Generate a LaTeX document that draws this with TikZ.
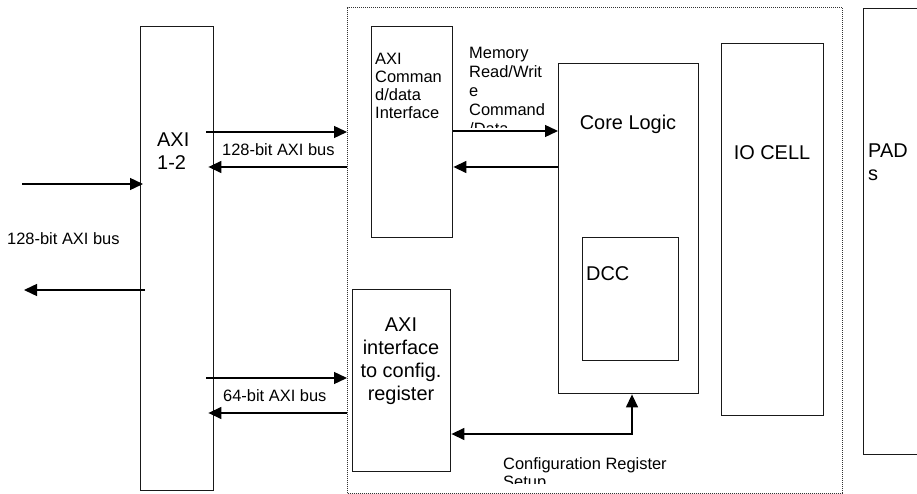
\documentclass[tikz,border=0pt]{standalone}
\usepackage{fontspec}
\setmainfont{Liberation Sans}
\usetikzlibrary{arrows.meta,calc}

\tikzset{
  box/.style={draw=black!90, line width=1.4bp, rectangle, inner sep=0pt, anchor=north west},
  region/.style={draw=black!80, line width=1.1bp, dash pattern=on 1bp off 1bp, rectangle, inner sep=0pt, anchor=north west},
  txt/.style={inner sep=0pt, font=\fontsize{16.5}{18}\selectfont},
  bigtxt/.style={inner sep=0pt, font=\fontsize{20}{23}\selectfont},
  arr/.style={line width=1.4bp, -{Triangle[length=13bp,width=12bp]}},
  arrboth/.style={line width=1.4bp, {Triangle[length=13bp,width=12bp]}-{Triangle[length=13bp,width=12bp]}}
}

\begin{document}
\begin{tikzpicture}[x=1bp,y=-1bp]
\useasboundingbox (0,0) rectangle (917,494);
\clip (0,0) rectangle (917,494);

% controller region (dotted outline)
\node[region, minimum width=495bp, minimum height=486bp] (region) at (347,7) {};

% blocks
\node[box, minimum width=73bp,  minimum height=464bp] (axi12)  at (140,26)  {};
\node[box, minimum width=81bp,  minimum height=211bp] (cmdif)  at (371,26)  {};
\node[box, minimum width=140bp, minimum height=330bp] (core)   at (558,63)  {};
\node[box, minimum width=96bp,  minimum height=123bp] (dcc)    at (582,237) {};
\node[box, minimum width=102bp, minimum height=372bp] (iocell) at (721,43)  {};
\node[box, minimum width=90bp,  minimum height=446bp] (pads)   at (863,8)   {};
\node[box, minimum width=98bp,  minimum height=182bp] (cfgif)  at (352,289) {};

% block texts
\node[bigtxt, anchor=north west, align=left] (axi12txt) at (157,133) {AXI\\1-2};
\node[txt, anchor=north west, align=left] (cmdtxt) at (375,53) {AXI\\Comman\\d/data\\Interface};
\node[bigtxt, anchor=north] (coretxt) at (628,115) {Core Logic};
\node[bigtxt, anchor=north west] (dcctxt) at (586,266) {DCC};
\node[bigtxt, anchor=north] (iotxt) at (772,145) {IO CELL};
\node[bigtxt, anchor=north west, align=left] (padtxt) at (868,144) {PAD\\s};
\node[bigtxt, anchor=north, align=center] (cfgtxt) at (401,318) {AXI\\interface\\to config.\\register};

% bus labels
\node[txt, anchor=north west] (bus1) at (222,143) {128-bit AXI bus};
\node[txt, anchor=north west] (bus2) at (7,232) {128-bit AXI bus};
\node[txt, anchor=north west] (bus3) at (223,389) {64-bit AXI bus};

% label over the command path, cut off by its text frame
\begin{scope}
  \clip (455,40) rectangle (555,128);
  \node[txt, font=\fontsize{16.5}{19}\selectfont, anchor=north west, align=left] (memtxt) at (469,47)
    {Memory\\Read/Writ\\e\\Command\\/Data};
\end{scope}

% label under the setup path, cut off by its text frame
\begin{scope}
  \clip (495,440) rectangle (700,483.5);
  \node[txt, font=\fontsize{16.5}{18.5}\selectfont, anchor=north west, align=left] (setuptxt) at (503,457)
    {Configuration Register\\Setup};
\end{scope}

% signal levels
\coordinate (yA) at (0,132);
\coordinate (yB) at (0,167);
\coordinate (yM) at (0,131);
\coordinate (yC) at (0,378);
\coordinate (yD) at (0,413);
\coordinate (inEnd) at (22,184);
\coordinate (outEnd) at (24,290);
\coordinate (setup) at (632,434);

% 128-bit bus between AXI 1-2 and the controller
\draw[arr] ($(axi12.east|-yA)+(-8,0)$) -- (region.west|-yA);
\draw[arr] (region.west|-yB) -- ($(axi12.east|-yB)+(-6,0)$);

% external 128-bit bus
\draw[arr] (inEnd) -- ($(axi12.west|-inEnd)+(3,0)$);
\draw[arr] ($(axi12.west|-outEnd)+(5,0)$) -- (outEnd);

% command interface <-> core logic
\draw[arr] (cmdif.east|-yM) -- (core.west|-yM);
\draw[arr] (core.west|-yB) -- (cmdif.east|-yB);

% 64-bit bus to the configuration interface
\draw[arr] ($(axi12.east|-yC)+(-8,0)$) -- (region.west|-yC);
\draw[arr] (region.west|-yD) -- ($(axi12.east|-yD)+(-6,0)$);

% configuration register setup
\draw[arrboth] (cfgif.east|-setup) -| (core.south-|setup);

\end{tikzpicture}
\end{document}
